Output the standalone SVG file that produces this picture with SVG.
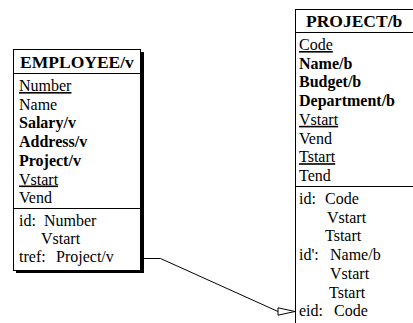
<svg xmlns="http://www.w3.org/2000/svg" width="413" height="323" viewBox="0 0 413 323">
<style>
text{font-family:"Liberation Serif","Times New Roman",serif;font-size:16px;fill:#000}
.h{font-weight:bold;font-size:17.5px}
.b{font-weight:bold}
.u{text-decoration:underline}
.box{fill:#fff;stroke:#000;stroke-width:1}
.sh{fill:#000}
.sep{stroke:#000;stroke-width:1}
.conn{fill:none;stroke:#000;stroke-width:1}
</style>
<g id="employee">
<rect class="sh" x="16" y="52" width="128" height="221"/>
<rect class="box" x="13.5" y="49.5" width="127" height="221"/>
<line class="sep" x1="13.5" y1="73.5" x2="140.5" y2="73.5"/>
<line class="sep" x1="13.5" y1="208.5" x2="140.5" y2="208.5"/>
<text class="h" x="77" y="68" text-anchor="middle">EMPLOYEE/v</text>
<text class="u" x="19" y="91">Number</text>
<text x="19" y="109.7">Name</text>
<text class="b" x="19" y="128.4">Salary/v</text>
<text class="b" x="19" y="147.1">Address/v</text>
<text class="b" x="19" y="165.8">Project/v</text>
<text class="u" x="19" y="184.5">Vstart</text>
<text x="19" y="203.2">Vend</text>
<text x="19" y="226">id:</text>
<text x="44" y="226">Number</text>
<text x="41" y="244">Vstart</text>
<text x="19" y="262">tref:</text>
<text x="56" y="262">Project/v</text>
</g>
<g id="project">
<rect class="sh" x="298" y="12" width="130" height="330"/>
<rect class="box" x="295.5" y="9.5" width="130" height="330"/>
<line class="sep" x1="295.5" y1="32.5" x2="425.5" y2="32.5"/>
<line class="sep" x1="295.5" y1="186.5" x2="425.5" y2="186.5"/>
<text class="h" x="306" y="27">PROJECT/b</text>
<text class="u" x="299" y="50">Code</text>
<text class="b" x="299" y="68.7">Name/b</text>
<text class="b" x="299" y="87.4">Budget/b</text>
<text class="b" x="299" y="106.1">Department/b</text>
<text class="u" x="299" y="124.8">Vstart</text>
<text x="299" y="143.5">Vend</text>
<text class="u" x="299" y="162.2">Tstart</text>
<text x="299" y="180.9">Tend</text>
<text x="299" y="204">id:</text>
<text x="325" y="204">Code</text>
<text x="327" y="222.7">Vstart</text>
<text x="325" y="241.4">Tstart</text>
<text x="299" y="260.1">id':</text>
<text x="330" y="260.1">Name/b</text>
<text x="330" y="278.8">Vstart</text>
<text x="329" y="297.5">Tstart</text>
<text x="299" y="316.2">eid:</text>
<text x="334" y="316.2">Code</text>
</g>
<g id="connectors">
<polyline class="conn" points="144,258.5 160.5,258.5 278,311.5"/>
<polygon class="conn" points="278,307.8 295,311.5 278,315.2" style="fill:#fff"/>
</g>
</svg>
